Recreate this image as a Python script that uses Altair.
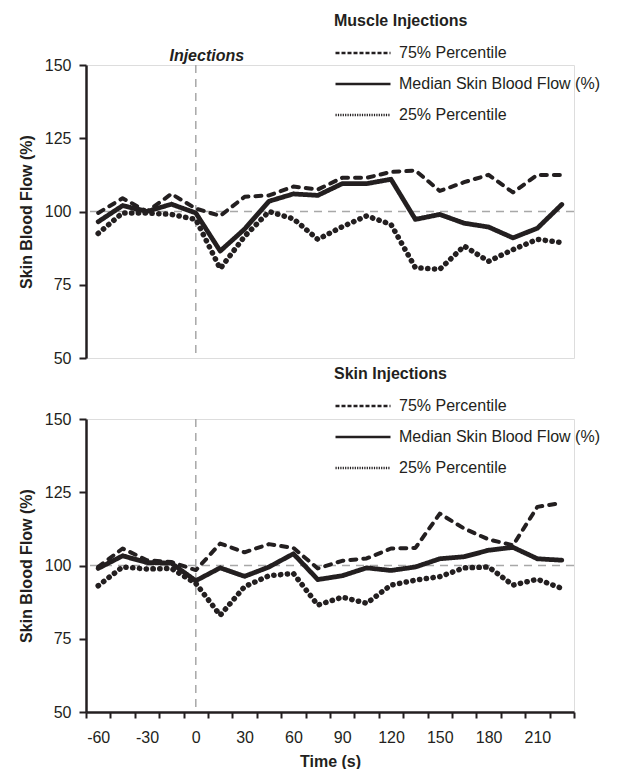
import altair as alt
import pandas as pd

# ---- data ----
times = [-60, -45, -30, -15, 0, 15, 30, 45, 60, 75, 90, 105, 120, 135, 150, 165, 180, 195, 210, 225]
series_names = ["75% Percentile", "Median Skin Blood Flow (%)", "25% Percentile"]

muscle_p75 = [99.5, 104.5, 100.0, 106.0, 101.0, 98.5, 105.0, 105.5, 108.5, 107.5, 111.5, 111.5, 113.5, 114.0, 107.0, 110.0, 112.5, 106.5, 112.5, 112.5]
muscle_med = [96.5, 102.0, 100.0, 102.5, 99.5, 86.5, 94.0, 103.5, 106.0, 105.5, 109.5, 109.5, 111.0, 97.3, 99.0, 96.0, 94.7, 91.0, 94.3, 102.4]
muscle_p25 = [92.5, 99.5, 99.5, 99.0, 97.3, 80.5, 91.5, 100.0, 97.5, 90.5, 94.8, 98.5, 95.6, 80.8, 80.3, 88.2, 83.0, 87.0, 90.5, 89.4]

skin_p75 = [99.5, 105.8, 101.8, 101.2, 98.4, 107.5, 104.5, 107.3, 106.0, 99.0, 101.6, 102.4, 105.8, 106.0, 117.7, 112.6, 108.9, 106.9, 120.0, 121.4]
skin_med = [99.0, 103.3, 101.0, 100.8, 94.8, 99.2, 96.3, 99.5, 104.0, 95.2, 96.5, 99.2, 98.3, 99.5, 102.3, 103.0, 105.2, 106.2, 102.3, 101.8]
skin_p25 = [93.1, 99.5, 98.8, 99.0, 93.9, 83.0, 92.8, 96.5, 97.3, 86.5, 89.2, 87.1, 93.3, 95.0, 96.2, 99.2, 99.5, 93.3, 95.3, 92.2]

y_ticks = [50, 75, 100, 125, 150]
baseline_value = 100
injection_time = 0
injection_label = "Injections"
panel_titles = ["Muscle Injections", "Skin Injections"]
y_title = "Skin Blood Flow (%)"
x_title = "Time (s)"

INK = "#231f20"
GREY = "#a8a8a8"
FONT = "Liberation Sans"
W, H = 488, 293


def panel_df(p75, med, p25):
    rows = []
    for s, vals in zip(series_names, [p75, med, p25]):
        for t, v in zip(times, vals):
            rows.append({"t": t, "v": v, "s": s})
    return pd.DataFrame(rows)


def panel(df, legend_title, show_x, annotate, legend_y):
    xscale = alt.Scale(type="band", domain=times, paddingInner=0, paddingOuter=0)
    if show_x:
        xaxis = alt.Axis(
            title=x_title, labelExpr="datum.value % 30 === 0 ? datum.label : ''",
            tickBand="extent", labelAngle=0, tickSize=6, tickWidth=2, tickColor=INK,
            domainColor=INK, domainWidth=2.5, labelFont=FONT, labelFontSize=16,
            labelColor=INK, labelPadding=11, titleFont=FONT, titleFontSize=16,
            titleFontWeight="bold", titleColor=INK, titlePadding=8, grid=False,
        )
    else:
        xaxis = None
    yscale = alt.Scale(domain=[50, 150], nice=False, zero=False)
    yaxis = alt.Axis(
        title=y_title, values=y_ticks, tickSize=7, tickWidth=2, tickColor=INK,
        domainColor=INK, domainWidth=2.5, labelFont=FONT, labelFontSize=16,
        labelColor=INK, labelPadding=8, titleFont=FONT, titleFontSize=16,
        titleFontWeight="bold", titleColor=INK, titlePadding=10, grid=False,
    )
    xenc = alt.X("t:O", scale=xscale, axis=xaxis, bandPosition=0.5)
    yenc = alt.Y("v:Q", scale=yscale, axis=yaxis)

    base = alt.Chart(df)
    marker_df = pd.DataFrame({"t": [injection_time], "v": [baseline_value], "label": [injection_label]})

    hrule = alt.Chart(marker_df).mark_rule(color=GREY, strokeDash=[8, 6], strokeWidth=1.5).encode(
        y=yenc
    )
    vrule = alt.Chart(marker_df).mark_rule(color=GREY, strokeDash=[8, 6], strokeWidth=1.5).encode(
        x=xenc
    )
    lines = base.mark_line(color=INK, strokeCap="round", strokeJoin="round").encode(
        x=xenc, y=yenc,
        strokeDash=alt.StrokeDash(
            "s:N", scale=alt.Scale(domain=series_names, range=[[6, 7], [1, 0], [0.3, 6.5]]), legend=None
        ),
        strokeWidth=alt.StrokeWidth(
            "s:N", scale=alt.Scale(domain=series_names, range=[4, 5.5, 3.6]), legend=None
        ),
    )
    legend_layer = base.transform_filter("false").mark_line(color=INK).encode(
        x=xenc, y=yenc,
        strokeDash=alt.StrokeDash(
            "s:N",
            scale=alt.Scale(domain=series_names, range=[[4, 2], [1, 0], [1.2, 1.2]]),
            legend=alt.Legend(
                title=legend_title, orient="none", legendX=248, legendY=legend_y,
                direction="vertical", symbolType="stroke", symbolSize=3025,
                symbolStrokeWidth=2.5, symbolStrokeColor=INK, clipHeight=20,
                titleFont=FONT, titleFontSize=16, titleFontWeight="bold", titleColor=INK,
                titlePadding=14, labelFont=FONT, labelFontSize=16, labelColor=INK,
                labelOffset=7, rowPadding=11, labelLimit=0,
            ),
        ),
    )
    layers = [hrule, vrule, lines, legend_layer]
    if annotate:
        ann = alt.Chart(marker_df).mark_text(
            font=FONT, fontSize=16, fontWeight="bold", fontStyle="italic", color=INK,
            dx=11, baseline="middle", align="center"
        ).encode(x=xenc, y=alt.value(-9), text="label:N")
        layers.append(ann)
    return alt.layer(*layers).resolve_scale(strokeDash="independent").properties(width=W, height=H)


top = panel(panel_df(muscle_p75, muscle_med, muscle_p25), panel_titles[0], False, True, -52)
bottom = panel(panel_df(skin_p75, skin_med, skin_p25), panel_titles[1], True, False, -53)

chart = alt.vconcat(top, bottom, spacing=-2).resolve_scale(
    strokeDash="independent", x="independent"
).properties(
    padding={"left": 9, "top": 4, "right": 0, "bottom": 0}
).configure_view(stroke=None).configure(font=FONT)

chart.save("out.html", embed_options={"renderer": "svg", "actions": False})
